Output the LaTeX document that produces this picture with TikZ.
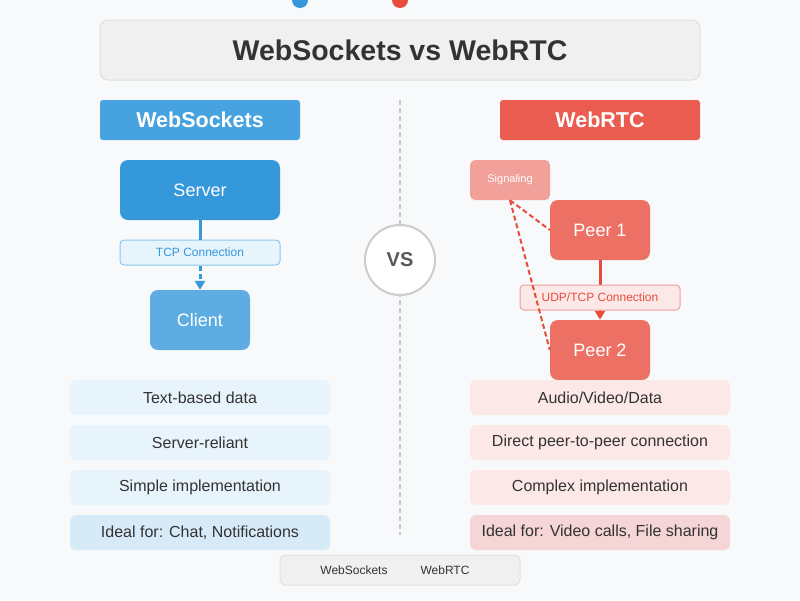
\documentclass[tikz,border=0pt]{standalone}
\usepackage{fontspec}
\setmainfont{Liberation Sans}
\usetikzlibrary{arrows.meta}
\definecolor{bg}{HTML}{F8F9FA}
\definecolor{wsblue}{HTML}{3498DB}
\definecolor{wslight}{HTML}{5DADE2}
\definecolor{wshead}{HTML}{47A3E0}
\definecolor{wsfeat}{HTML}{E8F4FC}
\definecolor{wsfeatd}{HTML}{D6EAF8}
\definecolor{rtcred}{HTML}{E74C3C}
\definecolor{rtchead}{HTML}{EA5C4F}
\definecolor{rtcpeer}{HTML}{EC7063}
\definecolor{rtcsig}{HTML}{F1A09A}
\definecolor{rtcfeat}{HTML}{FDE8E8}
\definecolor{rtcfeatd}{HTML}{F5D5D5}
\definecolor{txt}{HTML}{333333}
\tikzset{
  box/.style={rounded corners=6pt, inner sep=0pt},
  head/.style={box, rounded corners=3pt, text=white, font=\fontsize{21.5}{24}\selectfont\bfseries, minimum width=200pt, minimum height=40pt},
  feat/.style={box, text=txt, font=\fontsize{16}{19}\selectfont, minimum width=260pt, minimum height=35pt},
  tag/.style={box, rounded corners=4pt, draw, line width=1pt, font=\fontsize{12}{14}\selectfont, minimum width=160pt, minimum height=25pt},
  dsh/.style={dash pattern=on 5pt off 3pt},
}
\begin{document}
\begin{tikzpicture}[x=1pt,y=-1pt]
\useasboundingbox[fill=bg] (0,0) rectangle (800,600);
\fill[wsblue] (300,0) circle (8);
\fill[rtcred] (400,0) circle (8);
% title
\node[box, rounded corners=8pt, fill=black!6, draw=black!12, line width=1pt, minimum width=600pt, minimum height=60pt,
  text=txt, font=\fontsize{28.5}{32}\selectfont\bfseries] (title) at (400,50) {WebSockets vs WebRTC};
% divider
\draw[black!22, dsh, line width=1.5pt] (400,100) -- (400,535);
\node[circle, fill=white, draw=black!20, line width=2pt, minimum size=70pt, text=black!65,
  font=\fontsize{20}{24}\selectfont\bfseries] (vs) at (400,260) {VS};
% WebSockets side
\node[head, fill=wshead] (wshd) at (200,120) {WebSockets};
\node[box, rounded corners=8pt, fill=wsblue, text=white, font=\fontsize{18}{22}\selectfont, minimum width=160pt, minimum height=60pt] (server) at (200,190) {Server};
\node[box, rounded corners=8pt, fill=wslight, text=white, font=\fontsize{18}{22}\selectfont, minimum width=100pt, minimum height=60pt] (client) at (200,320) {Client};
\node[tag, fill=wsfeat, draw=wslight!70, text=wsblue] (tcp) at (200,252.5) {TCP Connection};
\draw[wsblue, line width=3pt] (server.south) -- (tcp.north);
\draw[wsblue, line width=3pt, dsh, -{Triangle[length=9pt,width=10pt]}] (tcp.south) -- (client.north);
\foreach \t [count=\i] in {Text-based data, Server-reliant, Simple implementation}
  \node[feat, fill=wsfeat] (wsf\i) at (200,352.5+45*\i) {\t};
\node[feat, fill=wsfeatd] (wsf4) at (200,532.5) {Ideal for: Chat, Notifications};
% WebRTC side
\node[head, fill=rtchead] (rtchd) at (600,120) {WebRTC};
\node[box, rounded corners=5pt, fill=rtcsig, text=white, font=\fontsize{11}{13}\selectfont, minimum width=80pt, minimum height=40pt] (sig) at (510,180) {Signaling};
\node[box, rounded corners=8pt, fill=rtcpeer, text=white, font=\fontsize{18}{22}\selectfont, minimum width=100pt, minimum height=60pt] (peer1) at (600,230) {Peer 1};
\node[box, rounded corners=8pt, fill=rtcpeer, text=white, font=\fontsize{18}{22}\selectfont, minimum width=100pt, minimum height=60pt] (peer2) at (600,350) {Peer 2};
\draw[rtcred, line width=3pt, -{Triangle[length=9pt,width=10pt]}] (peer1.south) -- (peer2.north);
\node[tag, fill=rtcfeat, draw=rtcsig, text=rtcred] (udp) at (600,297.5) {UDP/TCP Connection};
\draw[rtcred, line width=2pt, dsh] (sig.south) -- (peer1.west);
\draw[rtcred, line width=2pt, dsh] (sig.south) -- (peer2.west);
\foreach \t [count=\i] in {Audio/Video/Data, Direct peer-to-peer connection, Complex implementation}
  \node[feat, fill=rtcfeat] (rtcf\i) at (600,352.5+45*\i) {\t};
\node[feat, fill=rtcfeatd] (rtcf4) at (600,532.5) {Ideal for: Video calls, File sharing};
% legend
\node[box, fill=black!6, draw=black!12, line width=1pt, minimum width=240pt, minimum height=30pt] (legend) at (400,570) {};
\node[text=txt, font=\fontsize{12}{14}\selectfont] (lgws) at (354,570) {WebSockets};
\node[text=txt, font=\fontsize{12}{14}\selectfont] (lgrtc) at (445,570) {WebRTC};
\end{tikzpicture}
\end{document}
